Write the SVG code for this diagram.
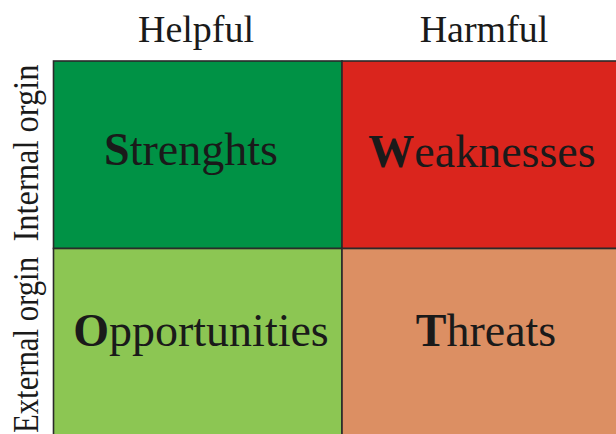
<svg xmlns="http://www.w3.org/2000/svg" width="616" height="434" viewBox="0 0 616 434">
<style>
.t{font-family:"Liberation Serif","Times New Roman",serif;fill:#1a1a1a}
.h{font-size:38px;text-anchor:middle}
.c{font-size:46px;text-anchor:middle}
.r{font-size:35px;text-anchor:middle}
.cell{stroke:#2a2a2a;stroke-width:1.6}
</style>
<rect width="616" height="434" fill="#ffffff"/>
<g id="header-helpful"><text class="t h" x="196" y="42">Helpful</text></g>
<g id="header-harmful"><text class="t h" x="484" y="42">Harmful</text></g>
<g id="label-internal"><text class="t r" transform="translate(38,153) rotate(-90)" textLength="177" lengthAdjust="spacingAndGlyphs">Internal orgin</text></g>
<g id="label-external"><text class="t r" transform="translate(38,345) rotate(-90)" textLength="176" lengthAdjust="spacingAndGlyphs">External orgin</text></g>
<g id="strengths">
<rect class="cell" x="53.5" y="61" width="288.5" height="187.5" fill="#009245"/>
<text class="t c" x="191" y="165"><tspan font-weight="bold">S</tspan>trenghts</text>
</g>
<g id="weaknesses">
<rect class="cell" x="342" y="61" width="280" height="187.5" fill="#DA251D"/>
<text class="t c" x="482" y="167"><tspan font-weight="bold">W</tspan>eaknesses</text>
</g>
<g id="opportunities">
<rect class="cell" x="53.5" y="248.5" width="288.5" height="195" fill="#8CC653"/>
<text class="t c" x="201" y="346"><tspan font-weight="bold">O</tspan>pportunities</text>
</g>
<g id="threats">
<rect class="cell" x="342" y="248.5" width="280" height="195" fill="#DC8F63"/>
<text class="t c" x="486" y="346"><tspan font-weight="bold">T</tspan>hreats</text>
</g>
</svg>
